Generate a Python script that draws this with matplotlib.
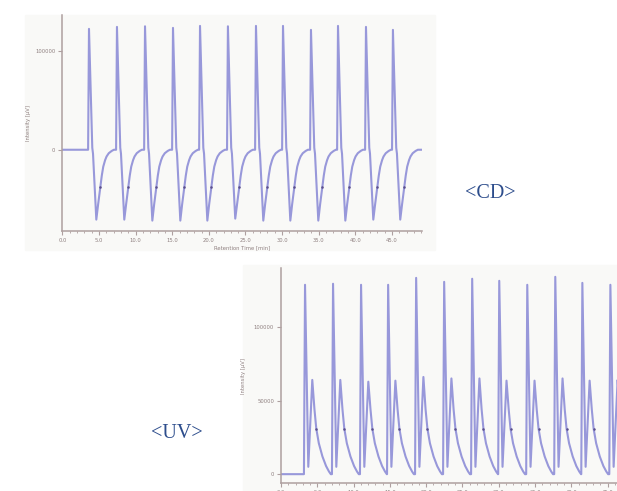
import matplotlib.pyplot as plt
from matplotlib.patches import Rectangle
from matplotlib.ticker import MultipleLocator, FormatStrFormatter

# --- CD trace ---
cd_peak_times = [3.63, 7.45, 11.28, 15.10, 18.79, 22.60, 26.43, 30.12, 33.94, 37.63, 41.45, 45.13]
cd_peak_heights = [122000, 124000, 124600, 123000, 125000, 124600, 125000, 125000, 121000, 125000, 124000, 121000]
cd_min_values = [-70500, -70500, -71500, -71500, -71500, -69500, -71500, -71500, -71500, -71500, -70500, -70500]
# one cycle, offsets from the peak [min] and values [uV]; None = peak / minimum
cd_cycle_offsets = [-0.12, 0.0, 0.45, 0.55, 1.0, 1.25, 1.55, 1.75, 1.95, 2.2, 2.4, 2.7, 3.1, 3.4]
cd_cycle_values = [0, None, 2000, -4000, None, -55000, -38000, -26000, -17000, -10500, -6800, -3500, -1200, 0]
cd_mark_offset = 1.55
cd_mark_value = -38000

# --- UV trace ---
uv_peak_times = [3.31, 7.17, 11.03, 14.76, 18.62, 22.48, 26.34, 30.07, 33.93, 37.79, 41.52, 45.38]
uv_peak_heights = [128600, 129300, 128600, 128600, 133300, 130600, 132700, 131300, 128600, 134000, 129900, 128600]
uv_second_heights = [64000, 64000, 62800, 63500, 66000, 65000, 65000, 63500, 63500, 65000, 63500, 64000]
uv_cycle_offsets = [-0.15, 0.0, 0.45, 1.0, 1.3, 1.55, 1.9, 2.4, 2.9, 3.3, 3.55]
uv_cycle_values = [0, None, 5000, None, 44000, 31000, 21000, 12000, 5500, 1800, 0]
uv_mark_offset = 1.55
uv_mark_value = 31000

LINE = '#9898da'
MARK = '#5a4e8c'
AXIS = '#ae9f9f'
TXT = '#8f8080'
NAVY = '#2d4d8c'


def build_trace(times, fill_a, fill_b, offsets, values, x_end):
    xs, ys = [0.0], [0.0]
    for t, a, b in zip(times, fill_a, fill_b):
        fills = iter([a, b])
        for off, val in zip(offsets, values):
            xs.append(t + off)
            ys.append(next(fills) if val is None else val)
    xs.append(x_end)
    ys.append(0.0)
    return xs, ys


def style_axes(ax):
    for side in ['top', 'right']:
        ax.spines[side].set_visible(False)
    for side in ['left', 'bottom']:
        ax.spines[side].set_color(AXIS)
        ax.spines[side].set_linewidth(1.1)
    ax.xaxis.set_major_locator(MultipleLocator(5))
    ax.xaxis.set_minor_locator(MultipleLocator(1))
    ax.xaxis.set_major_formatter(FormatStrFormatter('%.1f'))
    ax.tick_params(axis='both', which='major', colors=AXIS, labelcolor=TXT,
                   labelsize=3.8, length=3, width=0.8, pad=2)
    ax.tick_params(axis='x', which='minor', colors=AXIS, length=1.5, width=0.6)
    ax.set_facecolor('none')


fig = plt.figure(figsize=(6.17, 4.91), dpi=100)

# faint background of the two pasted chart images
fig.patches.append(Rectangle((25 / 617, 1 - 250 / 491), 410 / 617, 235 / 491,
                             transform=fig.transFigure, color='#f9f9f7', zorder=-5))
fig.patches.append(Rectangle((243 / 617, 0), 374 / 617, 1 - 265 / 491,
                             transform=fig.transFigure, color='#f9f9f7', zorder=-5))

# CD chart
ax1 = fig.add_axes([62.4 / 617, 1 - 231 / 491, 359.6 / 617, 216 / 491])
ax1.set_zorder(2)
cd_x, cd_y = build_trace(cd_peak_times, cd_peak_heights, cd_min_values,
                         cd_cycle_offsets, cd_cycle_values, 49.1)
ax1.plot(cd_x, cd_y, color=LINE, lw=1.5, solid_joinstyle='round')
ax1.plot([t + cd_mark_offset for t in cd_peak_times], [cd_mark_value] * len(cd_peak_times),
         'o', color=MARK, ms=1.8, mew=0)
ax1.set_xlim(0, 49.1)
ax1.set_ylim(-82000, 136000)
ax1.set_yticks([0, 100000])
ax1.yaxis.set_major_formatter(FormatStrFormatter('%d'))
style_axes(ax1)
ax1.set_ylabel('Intensity [µV]', fontsize=3.8, color=TXT)
ax1.yaxis.set_label_coords(-0.086, 0.5)
ax1.set_xlabel('Retention Time [min]', fontsize=3.8, color=TXT)
ax1.xaxis.set_label_coords(0.5, -0.065)

# UV chart (runs past the right edge of the picture)
ax2 = fig.add_axes([281 / 617, 1 - 483 / 491, 360 / 617, 215 / 491])
ax2.set_zorder(2)
uv_x, uv_y = build_trace(uv_peak_times, uv_peak_heights, uv_second_heights,
                         uv_cycle_offsets, uv_cycle_values, 49.6)
ax2.plot(uv_x, uv_y, color=LINE, lw=1.5, solid_joinstyle='round')
ax2.plot([t + uv_mark_offset for t in uv_peak_times], [uv_mark_value] * len(uv_peak_times),
         'o', color=MARK, ms=1.8, mew=0)
ax2.set_xlim(0, 49.6)
ax2.set_ylim(-6000, 140000)
ax2.set_yticks([0, 50000, 100000])
ax2.yaxis.set_major_formatter(FormatStrFormatter('%d'))
style_axes(ax2)
ax2.set_ylabel('Intensity [µV]', fontsize=3.8, color=TXT)
ax2.yaxis.set_label_coords(-0.097, 0.5)

fig.text(490 / 617, 1 - 194 / 491, '<CD>', fontsize=14.5, family='Liberation Serif',
         color=NAVY, ha='center', va='center')
fig.text(177 / 617, 1 - 434 / 491, '<UV>', fontsize=14.5, family='Liberation Serif',
         color=NAVY, ha='center', va='center')

fig.savefig('out.png', dpi=100)
